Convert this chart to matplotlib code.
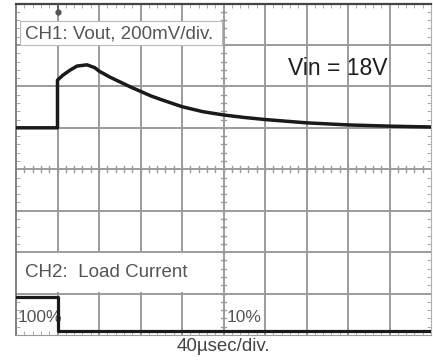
import matplotlib.pyplot as plt
from matplotlib.patches import Rectangle
from matplotlib.ticker import MultipleLocator

# CH1: Vout trace, in screen divisions (x: 40usec/div, y: 200mV/div)
ch1_t = [0, 1.0, 1.0, 1.13, 1.3, 1.47, 1.71, 1.9, 2.0, 2.25, 2.5, 2.75, 3.0, 3.25, 3.5, 4.0, 4.5, 5.0,
         5.5, 6.0, 7.0, 8.0, 9.0, 10.0]
ch1_v = [5.0, 5.0, 6.15, 6.27, 6.39, 6.49, 6.52, 6.45, 6.37, 6.23, 6.11, 5.99, 5.88, 5.77, 5.68, 5.51,
         5.39, 5.31, 5.25, 5.2, 5.12, 5.07, 5.04, 5.02]

# CH2: load current step 100% -> 10%
ch2_t = [0, 1.0, 1.0, 10.0]
ch2_i = [0.92, 0.92, 0.10, 0.10]

x_divs = 10
y_divs = 8

fig = plt.figure(figsize=(4.33, 3.60), dpi=100)
ax = fig.add_axes([16 / 433, 25 / 360, 415 / 433, 331.5 / 360])
ax.set_xlim(0, x_divs)
ax.set_ylim(0, y_divs)

grid_col = '#9c9c9c'
for i in range(1, x_divs):
    ax.axvline(i, color=grid_col, lw=1.4, zorder=1)
for j in range(1, y_divs):
    ax.axhline(j, color=grid_col, lw=1.4, zorder=1)

# minor ticks along the centre lines
for k in range(1, 5 * x_divs):
    ax.plot([k / 5, k / 5], [y_divs / 2 - 0.07, y_divs / 2 + 0.07], color=grid_col, lw=1, zorder=1)
for k in range(1, 5 * y_divs):
    ax.plot([x_divs / 2 - 0.07, x_divs / 2 + 0.07], [k / 5, k / 5], color=grid_col, lw=1, zorder=1)

ax.xaxis.set_minor_locator(MultipleLocator(0.2))
ax.yaxis.set_minor_locator(MultipleLocator(0.2))
ax.set_xticks([])
ax.set_yticks([])
ax.tick_params(which='minor', direction='in', length=3, color=grid_col,
               top=True, right=True, labelbottom=False, labelleft=False)

ax.spines['top'].set_color('#444444')
ax.spines['top'].set_linewidth(1.6)
ax.spines['left'].set_color('#777777')
ax.spines['left'].set_linewidth(1.3)
ax.spines['bottom'].set_color('#999999')
ax.spines['right'].set_color('#b0b0b0')

# white label areas
ax.add_patch(Rectangle((0.1, 7.0), 4.86, 0.58, facecolor='white', edgecolor='#bbbbbb', lw=0.8, zorder=2))
ax.add_patch(Rectangle((0.02, 1.03), 4.45, 0.94, facecolor='white', edgecolor='none', zorder=2))

ax.text(0.22, 7.26, 'CH1: Vout, 200mV/div.', fontsize=13.5, color='#555555',
        family='Liberation Sans', va='center', ha='left', zorder=3)
ax.text(6.55, 6.44, 'Vin = 18V', fontsize=16.5, color='#1e1e1e',
        family='Liberation Sans', va='center', ha='left', zorder=3)
ax.text(0.22, 1.52, 'CH2:  Load Current', fontsize=13.5, color='#555555',
        family='Liberation Sans', va='center', ha='left', zorder=3)
ax.text(0.05, 0.43, '100%', fontsize=12.5, color='#555555',
        family='Liberation Sans', va='center', ha='left', zorder=3)
ax.text(5.08, 0.43, '10%', fontsize=12.5, color='#555555',
        family='Liberation Sans', va='center', ha='left', zorder=3)
ax.text(5.0, -0.27, '40µsec/div.', fontsize=13.5, color='#444444',
        family='Liberation Sans', va='center', ha='center', clip_on=False)

# trigger marker
ax.plot([1.0, 1.0], [8.0, 7.82], color='#555555', lw=1.2, zorder=3, clip_on=False)
ax.plot([1.0], [7.8], marker='o', ms=3.5, color='#555555', zorder=3)

ax.plot(ch1_t, ch1_v, color='#1a1a1a', lw=2.5, zorder=4, solid_joinstyle='round')
ax.plot(ch2_t, ch2_i, color='#1a1a1a', lw=2.3, zorder=4)

fig.savefig('out.png', dpi=100)
